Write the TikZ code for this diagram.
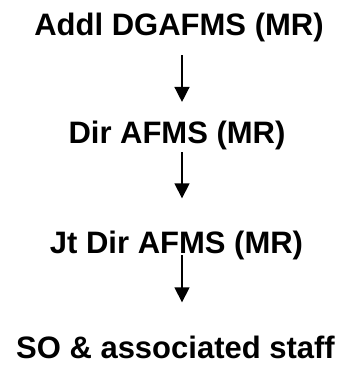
\documentclass[tikz,border=0pt]{standalone}
\usepackage{fontspec}
\setmainfont{Liberation Sans}
\usetikzlibrary{arrows.meta}
\begin{document}
\begin{tikzpicture}[x=1pt, y=1pt,
	post/.style = {anchor=base, inner sep=0pt, font=\bfseries\fontsize{31}{37}\selectfont},
	link/.style = {line width=1.4pt, -{Triangle[width=15pt,length=15pt]}}]
	\useasboundingbox (0,0) rectangle (347,-367);
	\coordinate (arrx) at (182,0);

	\node (addl) at (179,-35) [post] {Addl DGAFMS (MR)};
	\node (dir) at (177,-143) [post] {Dir AFMS (MR)};
	\node (jtdir) at (176.5,-253) [post] {Jt Dir AFMS (MR)};
	\node (staff) at (175.5,-358) [post] {SO \& associated staff};

	\draw [link, shorten <=13.5pt, shorten >=18.4pt] (addl.south -| arrx) -- (dir.north -| arrx);
	\draw [link, shorten <=2.5pt, shorten >=32pt] (dir.south -| arrx) -- (jtdir.north -| arrx);
	\draw [link, shorten <=-4.5pt, shorten >=33pt] (jtdir.south -| arrx) -- (staff.north -| arrx);
\end{tikzpicture}
\end{document}
